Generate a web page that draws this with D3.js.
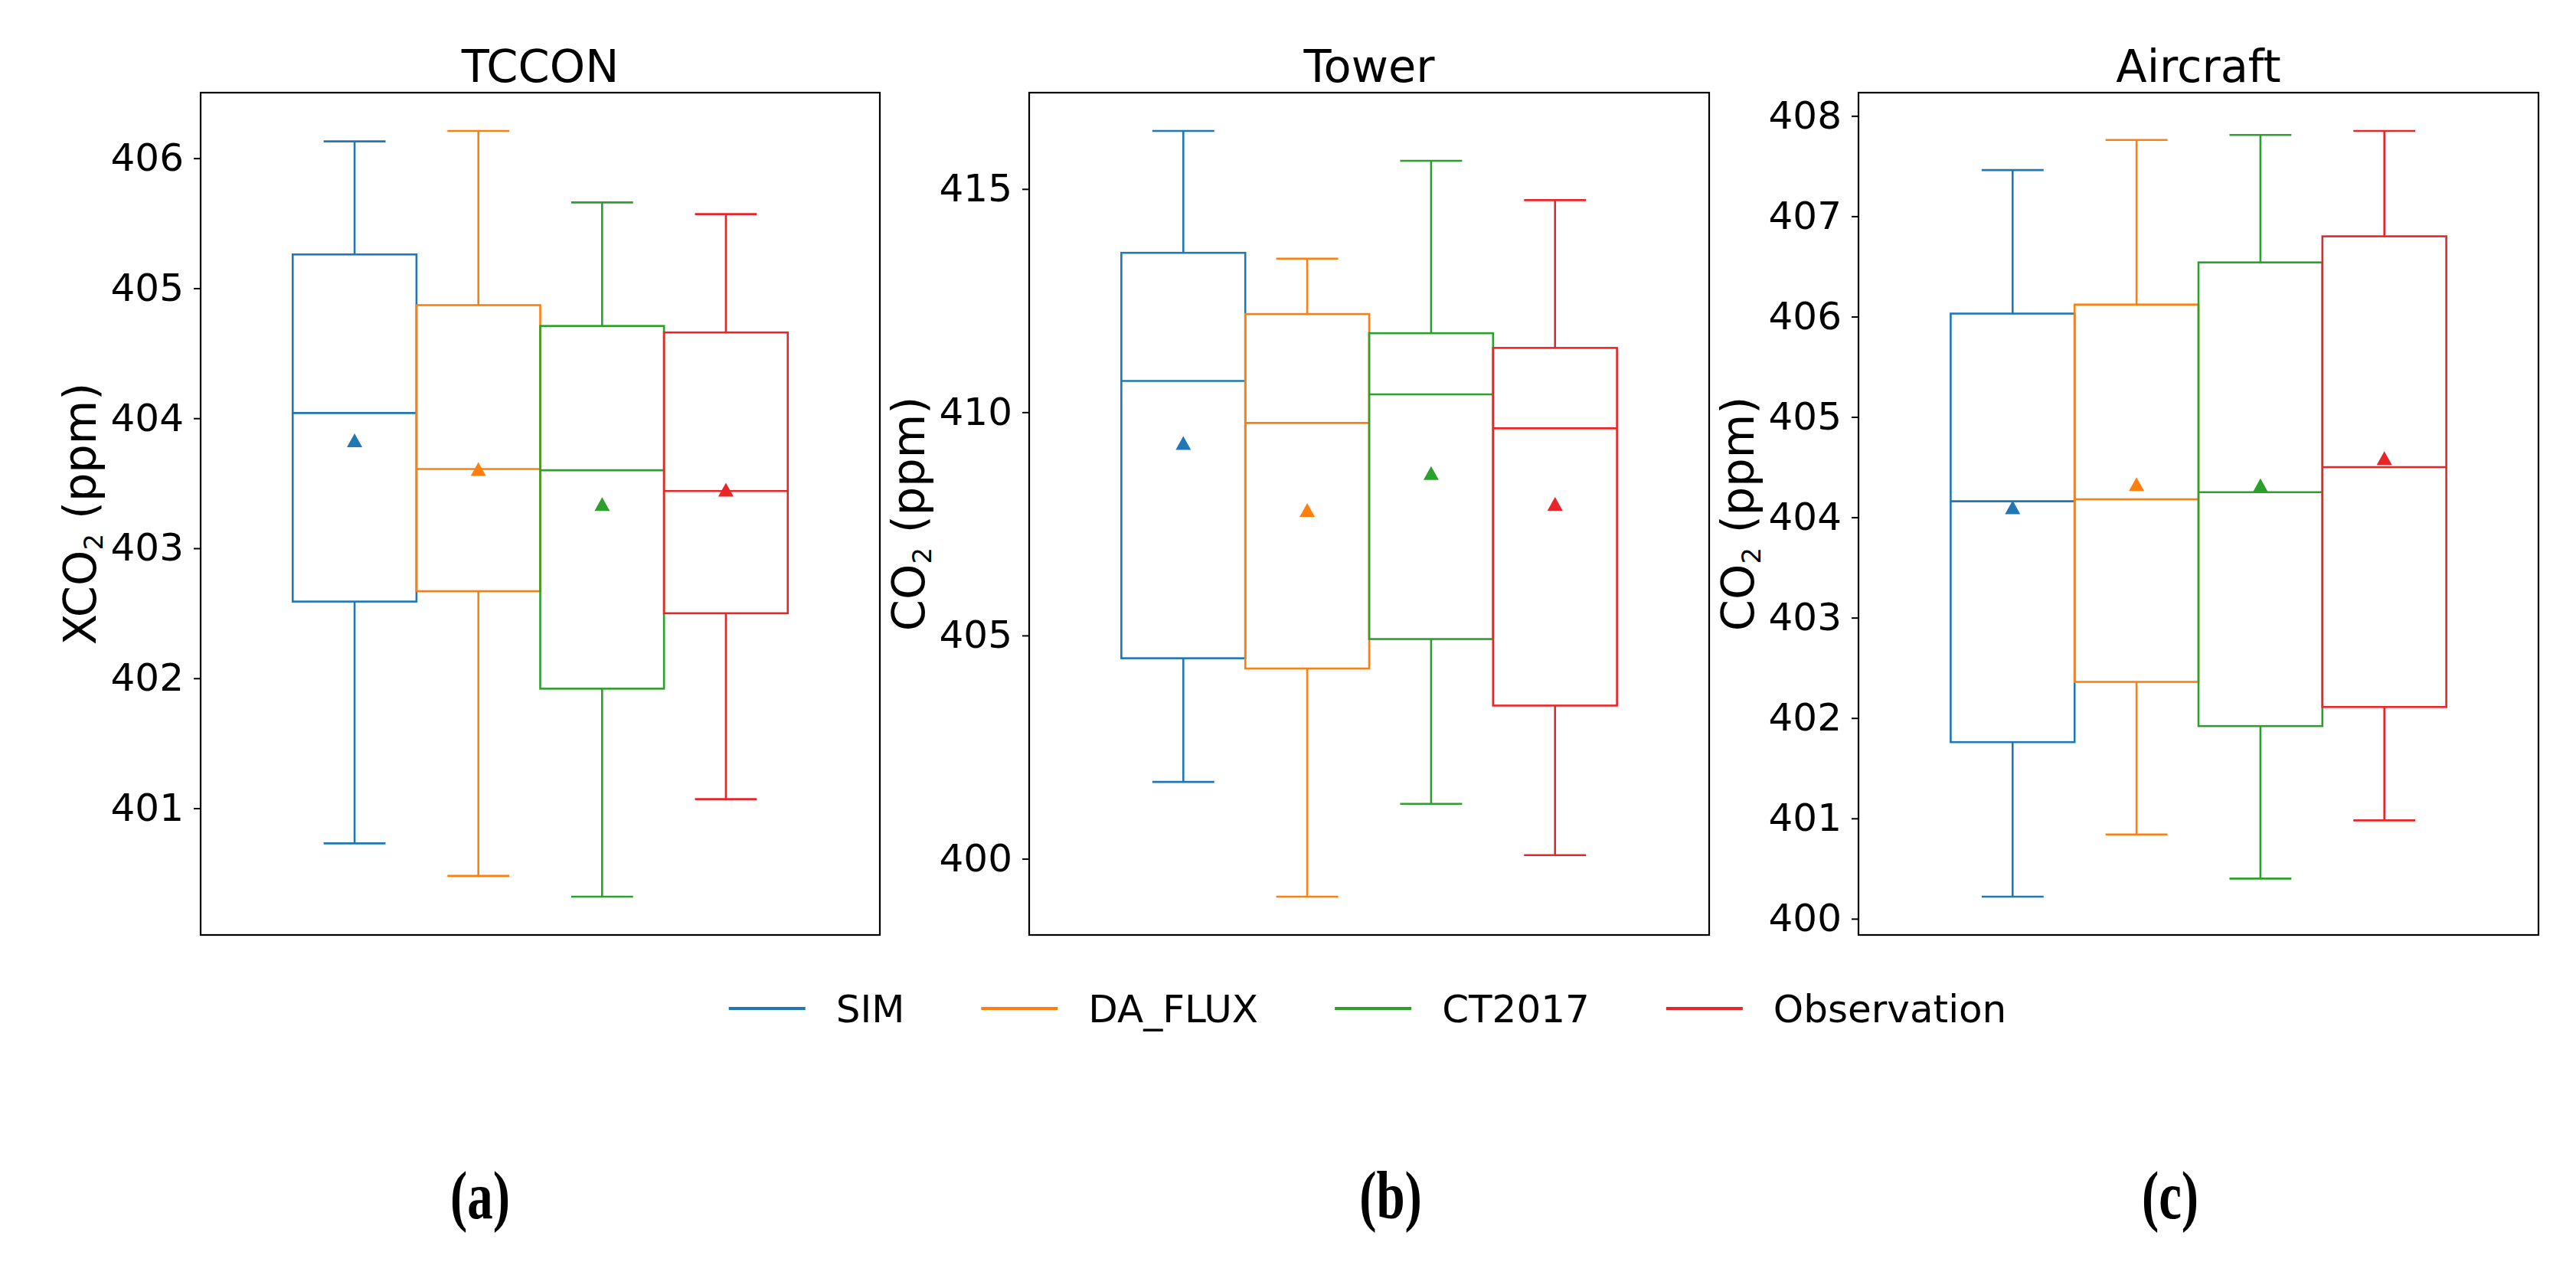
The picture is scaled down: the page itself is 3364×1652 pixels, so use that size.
<!DOCTYPE html>
<html><head><meta charset="utf-8">
<script src="https://cdn.jsdelivr.net/npm/d3@7"></script>
<style>html,body{margin:0;padding:0;background:#fff;} svg{display:block;}</style>
</head><body>
<script>
// ---------- data ----------
const series = ["SIM", "DA_FLUX", "CT2017", "Observation"];
const seriesColors = ["#1f77b4", "#ff7f0e", "#2ca02c", "#e8262a"];
const panelTitles = ["TCCON", "Tower", "Aircraft"];
const panelLetters = ["(a)", "(b)", "(c)"];
const yLabelMain = ["XCO", "CO", "CO"];

const tcconLow    = [400.73, 400.48, 400.32, 401.07];
const tcconQ1     = [402.59, 402.67, 401.92, 402.50];
const tcconMedian = [404.04, 403.61, 403.60, 403.44];
const tcconQ3     = [405.26, 404.87, 404.71, 404.66];
const tcconHigh   = [406.13, 406.21, 405.66, 405.57];
const tcconMean   = [403.83, 403.61, 403.34, 403.45];
const tcconTicks  = [401, 402, 403, 404, 405, 406];

const towerLow    = [401.72, 399.15, 401.23, 400.08];
const towerQ1     = [404.49, 404.26, 404.92, 403.43];
const towerMedian = [410.70, 409.76, 410.40, 409.64];
const towerQ3     = [413.57, 412.20, 411.77, 411.44];
const towerHigh   = [416.30, 413.44, 415.63, 414.75];
const towerMean   = [409.31, 407.81, 408.64, 407.95];
const towerTicks  = [400, 405, 410, 415];

const aircraftLow    = [400.22, 400.84, 400.40, 400.98];
const aircraftQ1     = [401.76, 402.36, 401.92, 402.11];
const aircraftMedian = [404.16, 404.18, 404.25, 404.50];
const aircraftQ3     = [406.03, 406.12, 406.54, 406.80];
const aircraftHigh   = [407.46, 407.76, 407.81, 407.85];
const aircraftMean   = [404.10, 404.33, 404.32, 404.59];
const aircraftTicks  = [400, 401, 402, 403, 404, 405, 406, 407, 408];

// ---------- layout ----------
const W = 3364, H = 1652;
const panelLeft = [262, 1344, 2427];
const panelRight = [1149, 2232, 3315];
const plotTop = 121, plotBottom = 1221;
const letterX = [627, 1816, 2834];
const FONT = "'DejaVu Sans', sans-serif";

const panels = [
  {low: tcconLow, q1: tcconQ1, med: tcconMedian, q3: tcconQ3, high: tcconHigh, mean: tcconMean, ticks: tcconTicks},
  {low: towerLow, q1: towerQ1, med: towerMedian, q3: towerQ3, high: towerHigh, mean: towerMean, ticks: towerTicks},
  {low: aircraftLow, q1: aircraftQ1, med: aircraftMedian, q3: aircraftQ3, high: aircraftHigh, mean: aircraftMean, ticks: aircraftTicks}
];

const svg = d3.select("body").append("svg").attr("width", W).attr("height", H)
  .style("background", "#fff");

const color = d3.scaleOrdinal().domain(series).range(seriesColors);

panels.forEach((p, i) => {
  const x = d3.scaleBand().domain(series).range([panelLeft[i], panelRight[i]])
    .paddingInner(0).paddingOuter(0.744);
  const lo = d3.min(p.low), hi = d3.max(p.high), r = hi - lo;
  const y = d3.scaleLinear().domain([lo - 0.05 * r, hi + 0.05 * r]).range([plotBottom, plotTop]);
  const bw = x.bandwidth();
  const g = svg.append("g");

  series.forEach((s, j) => {
    const c = color(s);
    const cx = x(s) + bw / 2;
    const bg = g.append("g").attr("stroke", c).attr("stroke-width", 2.6).attr("fill", "none");
    // whiskers
    bg.append("line").attr("x1", cx).attr("x2", cx).attr("y1", y(p.q1[j])).attr("y2", y(p.low[j]));
    bg.append("line").attr("x1", cx).attr("x2", cx).attr("y1", y(p.q3[j])).attr("y2", y(p.high[j]));
    // caps
    bg.append("line").attr("x1", cx - bw / 4).attr("x2", cx + bw / 4).attr("y1", y(p.low[j])).attr("y2", y(p.low[j]));
    bg.append("line").attr("x1", cx - bw / 4).attr("x2", cx + bw / 4).attr("y1", y(p.high[j])).attr("y2", y(p.high[j]));
    // box
    bg.append("rect").attr("x", x(s)).attr("y", y(p.q3[j])).attr("width", bw)
      .attr("height", y(p.q1[j]) - y(p.q3[j]));
    // median
    bg.append("line").attr("x1", x(s)).attr("x2", x(s) + bw).attr("y1", y(p.med[j])).attr("y2", y(p.med[j]));
    // mean marker (triangle up)
    const tw = 20, th = 18;
    g.append("path")
      .attr("d", `M0,${-th / 2}L${tw / 2},${th / 2}L${-tw / 2},${th / 2}Z`)
      .attr("transform", `translate(${cx},${y(p.mean[j])})`)
      .attr("fill", c).attr("stroke", "none");
  });

  // y axis
  const axis = d3.axisLeft(y).tickValues(p.ticks).tickSize(9).tickPadding(13).tickFormat(d3.format("d"));
  const ag = svg.append("g").attr("transform", `translate(${panelLeft[i]},0)`).call(axis);
  ag.select(".domain").remove();
  ag.selectAll(".tick line").attr("stroke", "#000").attr("stroke-width", 2);
  ag.selectAll(".tick text").attr("fill", "#000").style("font-family", FONT).style("font-size", "50px");

  // frame
  svg.append("rect").attr("x", panelLeft[i]).attr("y", plotTop)
    .attr("width", panelRight[i] - panelLeft[i]).attr("height", plotBottom - plotTop)
    .attr("fill", "none").attr("stroke", "#000").attr("stroke-width", 2.2);

  // title
  svg.append("text").attr("x", (panelLeft[i] + panelRight[i]) / 2).attr("y", 107)
    .attr("text-anchor", "middle").style("font-family", FONT).style("font-size", "59px")
    .attr("fill", "#000").text(panelTitles[i]);

  // y label
  const lx = panelLeft[i] - 137, ly = (plotTop + plotBottom) / 2;
  const yl = svg.append("text").attr("transform", `translate(${lx},${ly}) rotate(-90)`)
    .attr("text-anchor", "middle").style("font-family", FONT).style("font-size", "59px").attr("fill", "#000");
  yl.append("tspan").text(yLabelMain[i]);
  yl.append("tspan").attr("dy", 9).style("font-size", "34px").text("2");
  yl.append("tspan").attr("dy", -9).text(" (ppm)");

  // panel letter
  svg.append("text").attr("transform", `translate(${letterX[i]},1591) scale(0.76,1)`)
    .attr("text-anchor", "middle")
    .style("font-family", "'Liberation Serif', 'Times New Roman', serif").style("font-weight", "bold")
    .style("font-size", "88px").attr("fill", "#000").text(panelLetters[i]);
});

// ---------- legend ----------
const legFont = 50, handleLen = 100, handlePad = 40, colSpace = 100, legY = 1317, legCenter = 1786;
const leg = svg.append("g");
const items = series.map(s => {
  const gi = leg.append("g");
  gi.append("line").attr("x1", 0).attr("x2", handleLen).attr("y1", legY).attr("y2", legY)
    .attr("stroke", color(s)).attr("stroke-width", 3.8);
  const t = gi.append("text").attr("x", handleLen + handlePad).attr("y", legY + 18)
    .style("font-family", FONT).style("font-size", legFont + "px").attr("fill", "#000").text(s);
  const w = handleLen + handlePad + t.node().getComputedTextLength();
  return {gi, w};
});
const total = d3.sum(items, d => d.w) + colSpace * (items.length - 1);
let cur = legCenter - total / 2;
items.forEach(it => { it.gi.attr("transform", `translate(${cur},0)`); cur += it.w + colSpace; });
</script>
</body></html>
